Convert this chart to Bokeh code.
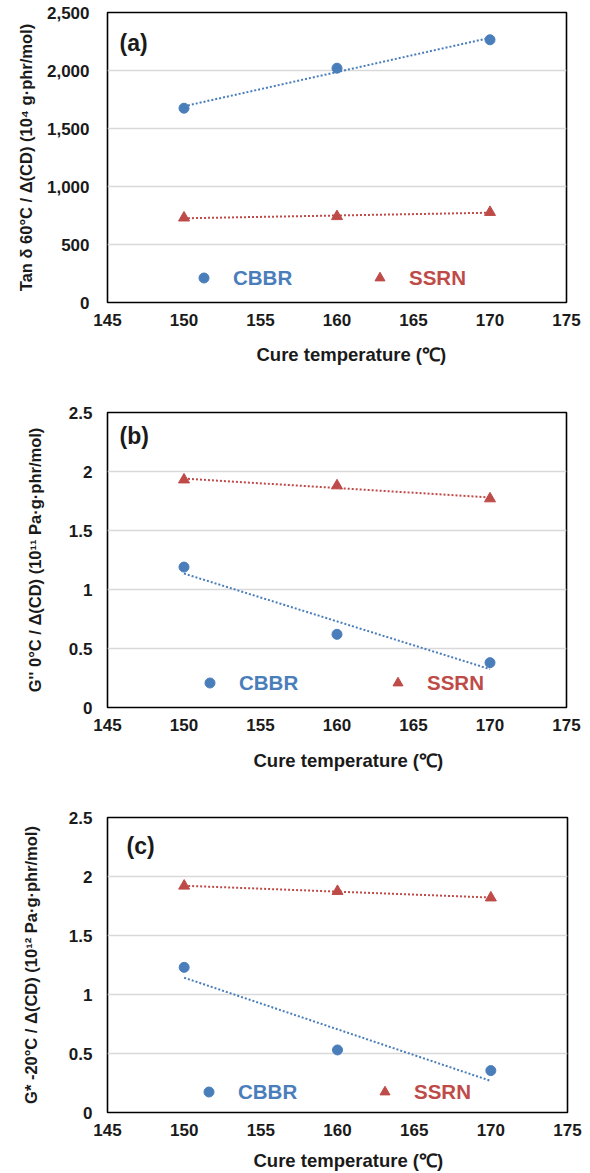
import numpy as np
from bokeh.plotting import figure
from bokeh.models import (Range1d, FixedTicker, NumeralTickFormatter, Legend,
                          LegendItem, Label, Title)
from bokeh.layouts import column
from bokeh.embed import file_html
from bokeh.resources import INLINE

# ---------------- data ----------------
temps = [150, 160, 170]
x_ticks = [145, 150, 155, 160, 165, 170, 175]

a_cbbr = [1675, 2020, 2265]
a_ssrn = [730, 742, 778]
a_ticks = [0, 500, 1000, 1500, 2000, 2500]

b_cbbr = [1.19, 0.62, 0.38]
b_ssrn = [1.93, 1.88, 1.77]
b_ticks = [0, 0.5, 1, 1.5, 2, 2.5]

c_cbbr = [1.23, 0.53, 0.355]
c_ssrn = [1.92, 1.875, 1.82]
c_ticks = [0, 0.5, 1, 1.5, 2, 2.5]

series_names = ["CBBR", "SSRN"]
x_title = "Cure temperature (\u2103)"
y_titles = [
    "Tan \u03b4 60\u00b0C / \u0394(CD) (10\u2074 g\u00b7phr/mol)",
    "G'' 0\u00b0C / \u0394(CD) (10\u00b9\u00b9 Pa\u00b7g\u00b7phr/mol)",
    "G* -20\u00b0C / \u0394(CD) (10\u00b9\u00b2 Pa\u00b7g\u00b7phr/mol)",
]
panel_tags = ["(a)", "(b)", "(c)"]

BLUE = "#4A7EBB"
RED = "#BE4B48"
FONT = "Liberation Sans"
TXT = "#1a1a1a"


def trend(xs, ys):
    k, b = np.polyfit(xs, ys, 1)
    xe = [min(xs), max(xs)]
    return xe, [k * v + b for v in xe]


def panel(cbbr, ssrn, yticks, fmt, ytitle, tag, fw, fh, bl, br, bt, bb,
          tick_sd, xt_off, xt_sd, ytick_sd, ylab_sd, tag_xy, leg1, leg2):
    p = figure(frame_width=fw, frame_height=fh,
               x_range=Range1d(145, 175), y_range=Range1d(yticks[0], yticks[-1]),
               output_backend="svg", toolbar_location=None,
               min_border_left=bl, min_border_right=br,
               min_border_top=bt, min_border_bottom=bb)
    p.outline_line_color = "black"
    p.outline_line_width = 1.6
    p.xgrid.visible = False
    p.ygrid.grid_line_color = "#d9d9d9"
    p.ygrid.grid_line_width = 1.5
    p.xaxis.ticker = FixedTicker(ticks=x_ticks)
    p.yaxis.ticker = FixedTicker(ticks=yticks)
    p.ygrid.ticker = FixedTicker(ticks=yticks)
    p.yaxis.formatter = NumeralTickFormatter(format=fmt)
    for ax in (p.xaxis[0], p.yaxis[0]):
        ax.axis_line_color = None
        ax.major_tick_line_color = None
        ax.minor_tick_line_color = None
        ax.major_tick_out = 0
        ax.major_label_text_font = FONT
        ax.major_label_text_font_style = "bold"
        ax.major_label_text_font_size = "17px"
        ax.major_label_text_color = TXT
        ax.axis_label_text_font = FONT
        ax.axis_label_text_font_style = "bold"
        ax.axis_label_text_color = TXT
    p.xaxis.major_label_standoff = tick_sd
    p.yaxis.axis_label = ytitle
    p.yaxis.axis_label_text_font_size = "16.5px"
    p.yaxis.major_label_standoff = ytick_sd
    p.yaxis.axis_label_standoff = ylab_sd

    # x-axis title, shifted a little right of the frame centre as in the original
    p.add_layout(Title(text=x_title, align="left", offset=xt_off, standoff=xt_sd,
                       text_font=FONT, text_font_style="bold",
                       text_font_size="18.5px", text_color=TXT), "below")

    tx, ty = trend(temps, cbbr)
    p.line(tx, ty, line_color=BLUE, line_width=2, line_dash="2 2")
    tx, ty = trend(temps, ssrn)
    p.line(tx, ty, line_color=RED, line_width=2, line_dash="2 2")
    r1 = p.scatter(temps, cbbr, marker="circle", size=10, color=BLUE)
    r2 = p.scatter(temps, ssrn, marker="triangle", size=11, color=RED)

    for r, name, col, loc in ((r1, series_names[0], BLUE, leg1),
                              (r2, series_names[1], RED, leg2)):
        lg = Legend(items=[LegendItem(label=name, renderers=[r])],
                    location=loc, orientation="horizontal",
                    glyph_width=25, glyph_height=25, label_height=25,
                    label_standoff=17, padding=0, margin=0, spacing=0,
                    border_line_color=None, background_fill_alpha=0,
                    label_text_color=col, label_text_font=FONT,
                    label_text_font_style="bold", label_text_font_size="20.5px",
                    label_text_baseline="middle")
        p.add_layout(lg, "center")

    p.add_layout(Label(x=tag_xy[0], y=tag_xy[1], x_units="screen", y_units="screen",
                       text=tag, text_font=FONT, text_font_style="bold",
                       text_font_size="23px", text_color=TXT,
                       text_baseline="middle"))
    return p


pa = panel(a_cbbr, a_ssrn, a_ticks, "0,0", y_titles[0], panel_tags[0],
           459, 290, 104, 27, 12, 83, 11, 149, 26, 18, 9, (12, 260),
           (84, 12), (260, 12))
pb = panel(b_cbbr, b_ssrn, b_ticks, "0.[0]", y_titles[1], panel_tags[1],
           459, 295, 107, 24, 27, 83, 11, 146, 29, 15, 22, (12, 272),
           (90, 12), (278, 12))
pc = panel(c_cbbr, c_ssrn, c_ticks, "0.[0]", y_titles[2], panel_tags[2],
           460, 295, 107, 23, 27, 61, 11, 146, 19, 15, 26, (19, 267),
           (89, 8), (265, 8))

layout = column(pa, pb, pc, spacing=0)
open("out.html", "w").write(file_html(layout, INLINE))
